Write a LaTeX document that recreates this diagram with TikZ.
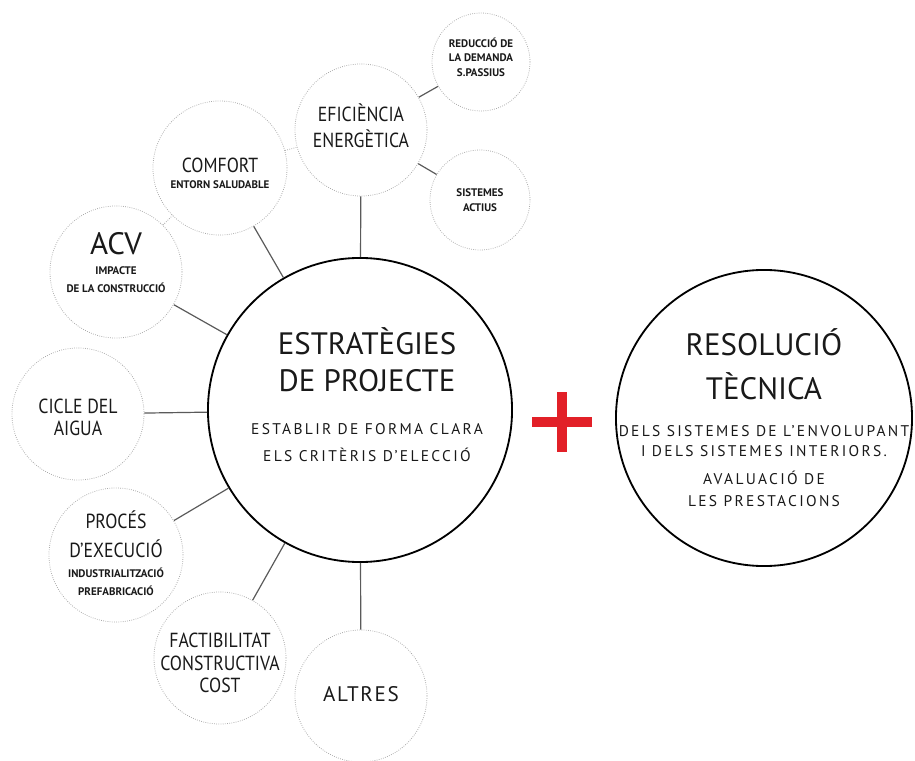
\documentclass[tikz,border=0pt]{standalone}
\usepackage{fontspec}
\setmainfont{PT Sans}
\newfontfamily\narrowfont[FakeStretch=0.87]{PT Sans}
\newfontfamily\widefont[LetterSpace=15]{PT Sans}
\newfontfamily\altfont[LetterSpace=8]{PT Sans}
\usetikzlibrary{positioning}
\definecolor{inkgrey}{RGB}{25,25,25}
\definecolor{linkgrey}{RGB}{90,90,90}
\definecolor{dotgrey}{RGB}{170,170,170}
\definecolor{plusred}{RGB}{226,32,40}
% font sizes used inside the bubbles
\newcommand\bigtxt{\fontsize{22}{26}\selectfont}
\newcommand\midtxt{\narrowfont\fontsize{14.5}{17}\selectfont}
\newcommand\smltxt{\widefont\fontsize{11}{13}\selectfont}
\newcommand\tnytxt{\bfseries\fontsize{7.8}{10}\selectfont}
\newcommand\gap[1]{\fontsize{10}{#1}\selectfont}
\tikzset{
  bubble/.style={circle,draw=dotgrey,densely dotted,line width=0.55pt,minimum size=3.3cm,inner sep=0pt},
  bigbubble/.style={circle,draw=black,line width=1.3pt,inner sep=0pt},
  link/.style={draw=linkgrey,line width=0.85pt},
  dotlink/.style={draw=dotgrey,densely dotted,line width=0.55pt},
  txt/.style={align=center,inner sep=0pt,text=inkgrey}
}
\begin{document}
\begin{tikzpicture}[x=0.025cm,y=-0.025cm]
  \useasboundingbox (0,0) rectangle (915,761);
  % main circles
  \node[bigbubble,minimum size=7.6cm] (estrat) at (360,410) {};
  \node[bigbubble,minimum size=7.4cm] (resol) at (764,418) {};
  % satellites
  \node[bubble] (efic) at (361,130) {};
  \node[bubble,minimum size=2.45cm] (reduc) at (481,62) {};
  \node[bubble,minimum size=2.5cm] (sistem) at (480,200) {};
  \node[bubble,minimum size=3.35cm] (comfort) at (220,168) {};
  \node[bubble] (acv) at (116,272) {};
  \node[bubble] (cicle) at (78,414) {};
  \node[bubble,minimum size=3.35cm] (proces) at (116,555) {};
  \node[bubble] (factib) at (220,658) {};
  \node[bubble] (altres) at (361,696) {};
  % connectors
  \foreach \sat in {efic,comfort,acv,cicle,proces,factib,altres}
    \draw[link] (estrat) -- (\sat);
  \draw[link] (efic) -- (reduc);
  \draw[link] (efic) -- (sistem);
  \draw[dotlink] (comfort) -- (efic);
  \draw[dotlink] (acv) -- (comfort);
  % texts
  \node[txt,font=\gap{19.2pt}] (estrat-t) at (367,394.5)
    {{\bigtxt ESTRATÈGIES}\\[7.1pt]{\bigtxt DE PROJECTE}\\[11.4pt]
     {\smltxt ESTABLIR DE FORMA CLARA}\\{\smltxt ELS CRITÈRIS D’ELECCIÓ}};
  \node[txt,font=\gap{14.2pt}] (resol-t) at (764,417.5)
    {{\bigtxt RESOLUCIÓ}\\[11.4pt]{\bigtxt TÈCNICA}\\[12.1pt]
     {\smltxt DELS SISTEMES DE L’ENVOLUPANT}\\{\smltxt I DELS SISTEMES INTERIORS.}\\[5.7pt]
     {\smltxt AVALUACIÓ DE}\\[1.4pt]{\smltxt LES PRESTACIONS}};
  \node[txt,font=\gap{18.5pt}] (efic-t) at (361,125.5)
    {{\midtxt EFICIÈNCIA}\\{\midtxt ENERGÈTICA}};
  \node[txt,font=\gap{10.3pt}] (reduc-t) at (481,57)
    {{\tnytxt REDUCCIÓ DE}\\{\tnytxt LA DEMANDA}\\{\tnytxt S.PASSIUS}};
  \node[txt,font=\gap{10.7pt}] (sistem-t) at (480,200)
    {{\tnytxt SISTEMES}\\{\tnytxt ACTIUS}};
  \node[txt,font=\gap{11.4pt}] (comfort-t) at (220,173)
    {{\midtxt COMFORT}\\{\tnytxt ENTORN SALUDABLE}};
  \node[txt,font=\gap{12.8pt}] (acv-t) at (116,263)
    {{\bigtxt ACV}\\[1.4pt]{\tnytxt IMPACTE}\\{\tnytxt DE LA CONSTRUCCIÓ}};
  \node[txt,font=\gap{15.6pt}] (cicle-t) at (78,417.5)
    {{\midtxt CICLE DEL}\\{\midtxt AIGUA}};
  \node[txt,font=\gap{12.8pt}] (proces-t) at (116,553)
    {{\midtxt PROCÉS}\\[7.8pt]{\midtxt D’EXECUCIÓ}\\[1.4pt]
     {\tnytxt INDUSTRIALITZACIÓ}\\{\tnytxt PREFABRICACIÓ}};
  \node[txt,font=\gap{15.6pt}] (factib-t) at (220,662.5)
    {{\midtxt FACTIBILITAT}\\[0.8pt]{\midtxt CONSTRUCTIVA}\\{\midtxt COST}};
  \node[txt] (altres-t) at (361,694.5) {\altfont\fontsize{15}{17}\selectfont ALTRES};
  % red plus
  \fill[plusred] (532,417) rectangle (592,427);
  \fill[plusred] (557,392) rectangle (567,452);
\end{tikzpicture}
\end{document}
